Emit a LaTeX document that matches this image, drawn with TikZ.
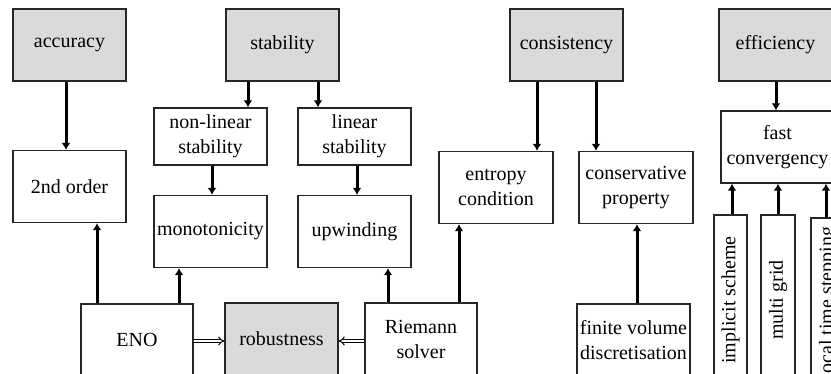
\documentclass[tikz,border=0pt]{standalone}
\usepackage{fontspec}
\setmainfont{Liberation Serif}
\usepackage{graphicx}
\usetikzlibrary{arrows.meta}
\definecolor{boxgrey}{RGB}{218,218,218}
\tikzset{
   box/.style={draw=black!85, fill=white, line width=0.7pt, inner sep=0pt,
      align=center, minimum width=56.5pt, minimum height=36pt,
      font=\fontsize{10}{12.5}\selectfont},
   goal/.style={box, fill=boxgrey},
   thin box/.style={box, minimum width=16.5pt, minimum height=85pt},
   arr/.style={line width=1.5pt, -{Latex[length=3.5pt,width=4.5pt]}},
   dblarr/.style={double, double distance=1pt, line width=0.5pt, -{Implies}},
   }

\begin{document}
\begin{tikzpicture}[x=0.5pt,y=-0.5pt]
            \useasboundingbox (0,0) rectangle (831,374);
            \clip (0,0) rectangle (831,374);
            % top row
            \node[goal] (acc) at (69.5,45) {accuracy};
            \node[goal] (stab) at (282.5,45) {stability};
            \node[goal] (cons) at (566.5,45) {consistency};
            \node[goal] (eff) at (775.5,45) {efficiency};
            % second level
            \node[box, minimum height=28.5pt] (nonlin) at (210.5,136.5) {non-linear\\stability};
            \node[box, minimum height=28.5pt] (lin) at (354.5,136.5) {linear\\stability};
            \node[box] (ord) at (69.5,186.5) {2nd order};
            \node[box] (mono) at (210.5,231.5) {monotonicity};
            \node[box] (upw) at (354.5,231.5) {upwinding};
            \node[box, minimum width=57pt] (entr) at (496,187.5) {entropy\\condition};
            \node[box, minimum width=57pt] (consv) at (636,187.5) {conservative\\property};
            \node[box] (fast) at (777.5,147) {fast\\convergency};
            % bottom row
            \node[box, minimum width=56pt] (eno) at (137,340) {ENO};
            \node[goal] (rob) at (281.5,339) {robustness};
            \node[box, minimum width=56pt] (riem) at (421,339) {Riemann\\solver};
            \node[box] (fvd) at (633.5,340) {finite volume\\discretisation};
            \node[thin box] (impl) at (730.5,300) {\rotatebox{90}{implicit scheme}};
            \node[thin box, minimum width=17pt] (multi) at (778,300) {\rotatebox{90}{multi grid}};
            \node[thin box, minimum width=17pt] (lts) at (828,303) {\rotatebox{90}{local time stepping}};
            % arrows down
            \draw[arr] (acc.south -| 66,0) -- (ord.north -| 66,0);
            \draw[arr] (stab.south -| 248,0) -- (nonlin.north -| 248,0);
            \draw[arr] (stab.south -| 318,0) -- (lin.north -| 318,0);
            \draw[arr] (nonlin.south -| 212,0) -- (mono.north -| 212,0);
            \draw[arr] (lin.south -| 357,0) -- (upw.north -| 357,0);
            \draw[arr] (cons.south -| 537,0) -- (entr.north -| 537,0);
            \draw[arr] (cons.south -| 596,0) -- (consv.north -| 596,0);
            \draw[arr] (eff.south -| 776,0) -- (fast.north -| 776,0);
            % arrows up
            \draw[arr] (eno.north -| 97,0) -- (ord.south -| 97,0);
            \draw[arr] (eno.north -| 179,0) -- (mono.south -| 179,0);
            \draw[arr] (riem.north -| 388,0) -- (upw.south -| 388,0);
            \draw[arr] (riem.north -| 459,0) -- (entr.south -| 459,0);
            \draw[arr] (fvd.north -| 637,0) -- (consv.south -| 637,0);
            \draw[arr] (impl.north -| 732,0) -- (fast.south -| 732,0);
            \draw[arr] (multi.north) -- (fast.south -| multi.north);
            \draw[arr] (lts.north -| 826,0) -- (fast.south -| 826,0);
            % robustness
            \draw[dblarr] (eno.east |- 0,341) -- (rob.west |- 0,341);
            \draw[dblarr] (riem.west |- 0,341) -- (rob.east |- 0,341);
            
        \end{tikzpicture}
\end{document}
